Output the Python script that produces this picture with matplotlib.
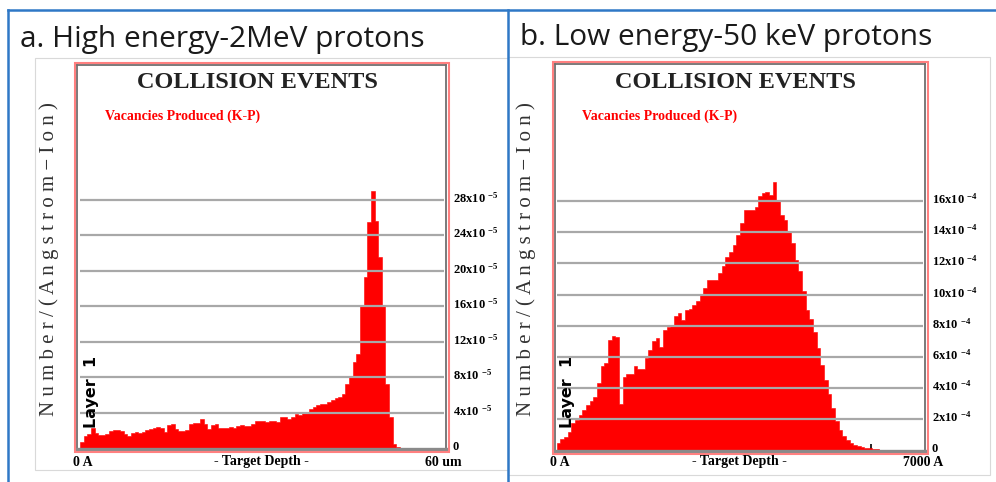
import numpy as np
import matplotlib.pyplot as plt
from matplotlib.patches import Rectangle
from matplotlib.lines import Line2D
from matplotlib.transforms import ScaledTranslation

W, H = 996, 482

# ---- data ----
# a. 2 MeV protons, 100 depth bins over 0-60 um, vacancies in units of 1e-5
a_depth_max = 60
a_vacancies = [0.7, 1.4, 1.6, 2.2, 1.7, 1.5, 1.5, 1.6, 1.9, 2.0,
               2.0, 1.9, 1.6, 1.4, 1.7, 1.75, 1.7, 1.8, 2.0, 2.1,
               2.2, 2.4, 2.3, 1.8, 2.6, 2.7, 2.1, 1.9, 1.9, 2.0,
               2.7, 2.8, 2.8, 3.3, 2.7, 2.1, 2.6, 2.7, 2.3, 2.2,
               2.3, 2.4, 2.3, 2.5, 2.6, 2.5, 2.45, 2.7, 3.0, 3.1,
               3.0, 2.9, 3.0, 3.1, 2.9, 3.5, 3.5, 3.3, 3.5, 3.8,
               3.7, 4.0, 4.1, 4.4, 4.6, 4.85, 5.0, 5.0, 5.15, 5.4,
               5.6, 5.7, 6.1, 7.2, 8.0, 9.7, 10.6, 16.1, 19.3, 25.5,
               29.0, 25.6, 21.5, 16.0, 7.2, 3.5, 0.4, 0.15, 0.05, 0,
               0, 0, 0, 0, 0, 0, 0, 0, 0, 0]
a_yticks = [0, 4, 8, 12, 16, 20, 24, 28]
a_xticks = [10, 20, 30, 40, 50]
a_exp = -5

# b. 50 keV protons, 100 depth bins over 0-7000 A, vacancies in units of 1e-4
b_depth_max = 7000
b_vacancies = [0.5, 0.75, 0.85, 1.2, 1.75, 1.95, 2.3, 2.6, 2.9, 3.2,
               3.4, 4.3, 5.4, 5.6, 7.1, 7.35, 7.3, 3.0, 4.7, 4.9,
               4.9, 5.4, 5.25, 5.25, 5.9, 6.45, 7.0, 7.2, 6.65, 7.7,
               7.9, 8.05, 8.6, 8.8, 8.35, 9.0, 9.1, 9.3, 9.6, 10.0,
               10.4, 10.9, 10.9, 10.9, 11.35, 11.8, 12.4, 12.7, 13.2, 13.8,
               14.6, 15.4, 15.4, 15.4, 15.6, 16.3, 16.5, 16.6, 16.4, 17.2,
               16.0, 15.1, 14.8, 14.1, 13.3, 12.2, 11.5, 10.2, 9.0, 8.4,
               7.6, 6.6, 5.5, 4.5, 3.6, 2.7, 1.9, 1.3, 0.95, 0.7,
               0.5, 0.38, 0.28, 0.22, 0.16, 0.13, 0.1, 0.08, 0, 0,
               0, 0, 0, 0, 0, 0, 0, 0, 0, 0]
b_yticks = [0, 2, 4, 6, 8, 10, 12, 14, 16]
b_xticks = [1000, 2000, 3000, 4000, 5000, 6000]
b_exp = -4

plt.rcParams['mathtext.fontset'] = 'custom'
plt.rcParams['mathtext.rm'] = 'Liberation Serif:bold'
plt.rcParams['mathtext.it'] = 'Liberation Serif:bold'
plt.rcParams['mathtext.bf'] = 'Liberation Serif:bold'

SERIF = 'Liberation Serif'
BLUE = '#2f78c6'


def px_box(x0, y0, x1, y1):
    return [x0 / W, 1 - y1 / H, (x1 - x0) / W, (y1 - y0) / H]


def ftext(fig, x, y, s, **kw):
    return fig.text(x / W, 1 - y / H, s, **kw)


def frame(fig, x0, y0, x1, y1, color, lw):
    fig.add_artist(Rectangle((x0 / W, 1 - y1 / H), (x1 - x0) / W, (y1 - y0) / H,
                             transform=fig.transFigure, fill=False,
                             edgecolor=color, linewidth=lw))


def collision_panel(fig, dx, axbox, zero_px, xppu, yppu, values, xmax,
                    yticks, xticks, exp, right_label, title, title_base):
    x0, y0, x1, y1 = axbox
    ax = fig.add_axes(px_box(x0, y0, x1, y1))
    ax.set_xlim((x0 - zero_px[0]) / xppu, (x1 - zero_px[0]) / xppu)
    ax.set_ylim(-(y1 - zero_px[1]) / yppu, (zero_px[1] - y0) / yppu)

    edges = np.linspace(0, xmax, len(values) + 1)
    ax.stairs(values, edges, fill=True, facecolor='#ff0000', edgecolor='#ff0000',
              linewidth=0.4, zorder=2)
    ax.hlines(yticks[1:], 0, xmax, color='#a8a8a8', linewidth=1.6, zorder=3)

    for s in ax.spines.values():
        s.set_color('#6f6f6f')
        s.set_linewidth(1.3)
    ax.spines['bottom'].set_linewidth(2.4)
    ax.spines['bottom'].set_color('#8a8a8a')

    ax.set_xticks(xticks)
    ax.tick_params(axis='x', direction='in', length=5, width=1.2, color='black',
                   labelbottom=False)
    ax.yaxis.tick_right()
    ax.set_yticks(yticks)
    ax.set_yticklabels(['0'] + ['%dx10 $^{%d}$' % (v, exp) for v in yticks[1:]],
                       family=SERIF, fontweight='bold', fontsize=9)
    ax.tick_params(axis='y', length=0, pad=5)
    lift = ScaledTranslation(0, 3 / 100, fig.dpi_scale_trans)
    for lab in ax.get_yticklabels():
        lab.set_transform(lab.get_transform() + lift)

    # outer red border around the plot box
    frame(fig, x0 - 2, y0 - 2, x1 + 2.5, y1 + 3, '#ff8080', 1.5)

    xc = (x0 + x1) / 2
    ftext(fig, xc - 4, 83, 'COLLISION EVENTS', family=SERIF, fontweight='bold',
          fontsize=17.5, ha='center', va='center', color='#222222')
    ftext(fig, x0 + 28, 116, 'Vacancies Produced (K-P)', family=SERIF,
          fontweight='bold', fontsize=10, color='#ff0000', va='center')
    ftext(fig, zero_px[0] + 11, 392, 'Layer  1', family='DejaVu Sans',
          fontweight='bold', fontsize=11.5, rotation=90, ha='center', va='center')
    ftext(fig, x0 - 28, 259, 'N u m b e r / ( A n g s t r o m − I o n )',
          family=SERIF, fontsize=15, rotation=90, ha='center', va='center',
          color='#333333')

    yb = 462
    ftext(fig, zero_px[0] + 3, yb, '0 A', family=SERIF, fontweight='bold',
          fontsize=10, ha='center', va='center')
    ftext(fig, zero_px[0] + xmax * xppu / 2, yb, '- Target Depth -', family=SERIF,
          fontweight='bold', fontsize=10, ha='center', va='center')
    ftext(fig, zero_px[0] + xmax * xppu, yb, right_label, family=SERIF,
          fontweight='bold', fontsize=10, ha='center', va='center')

    ftext(fig, dx + 20.5, title_base, title, family='Open Sans', fontsize=21.5,
          va='baseline', color='#1a1a1a')
    return ax


fig = plt.figure(figsize=(W / 100, H / 100), dpi=100)

# slide-like frames
frame(fig, 35, 58, 508, 470, '#d9d9d9', 0.8)
frame(fig, 508, 57, 990, 475, '#d9d9d9', 0.8)
fig.add_artist(Line2D([8 / W, 1], [1 - 10 / H, 1 - 10 / H], color=BLUE, lw=1.8,
                      transform=fig.transFigure))
fig.add_artist(Line2D([8 / W, 8 / W], [0, 1 - 10 / H], color=BLUE, lw=1.8,
                      transform=fig.transFigure))
fig.add_artist(Line2D([508 / W, 508 / W], [0, 1 - 10 / H], color=BLUE, lw=1.8,
                      transform=fig.transFigure))

collision_panel(fig, 0, (77, 65, 446, 449), (80, 448), (443.6 - 80) / a_depth_max,
                8.87, a_vacancies, a_depth_max, a_yticks, a_xticks, a_exp,
                '60 um', 'a. High energy-2MeV protons', 46.5)
collision_panel(fig, 500, (554.5, 64, 925, 451), (556.7, 450.5),
                (923 - 556.7) / b_depth_max, 15.6, b_vacancies, b_depth_max,
                b_yticks, b_xticks, b_exp, '7000 A',
                'b. Low energy-50 keV protons', 45)

fig.savefig('out.png', dpi=100)
